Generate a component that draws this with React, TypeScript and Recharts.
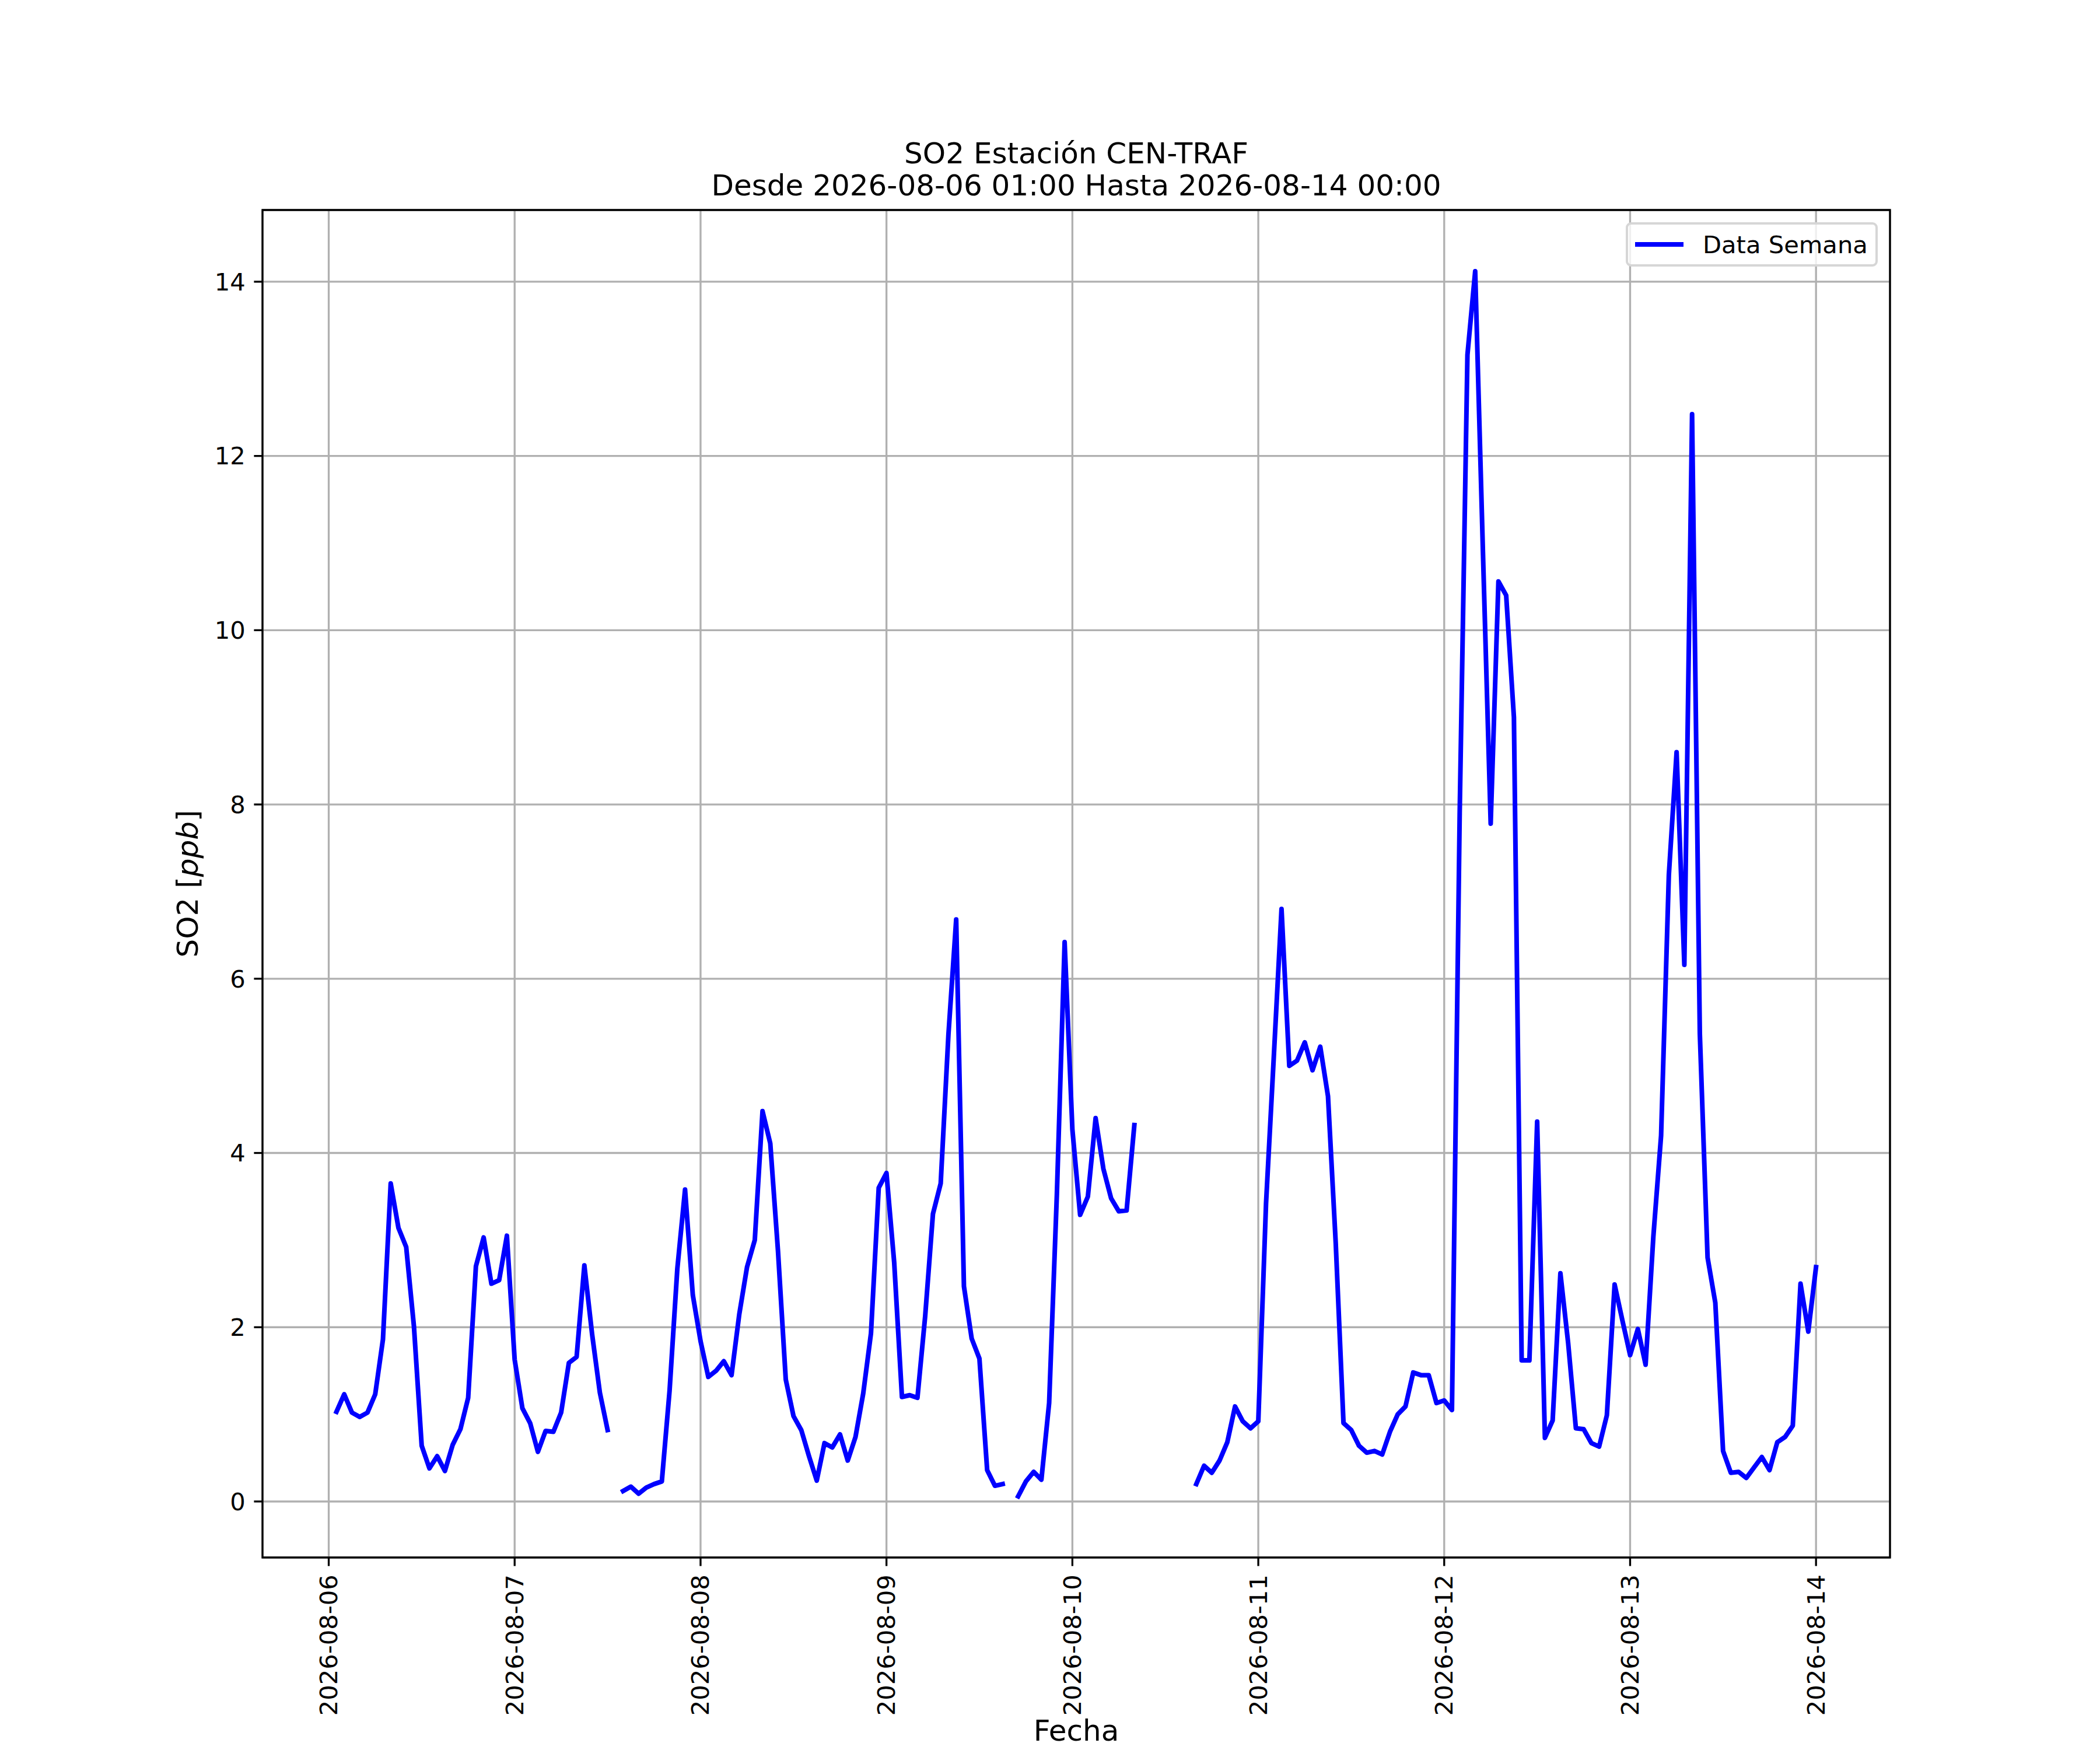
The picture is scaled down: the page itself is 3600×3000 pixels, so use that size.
import React from 'react';
import { LineChart, Line, XAxis, YAxis, CartesianGrid, ReferenceArea, Legend } from 'recharts';

// tick labels (one per day, at 00:00)
const dayLabels = [
  '2026-08-06', '2026-08-07', '2026-08-08', '2026-08-09', '2026-08-10',
  '2026-08-11', '2026-08-12', '2026-08-13', '2026-08-14',
];
const dayTicks = [0, 24, 48, 72, 96, 120, 144, 168, 192];
const yTicks = [0, 2, 4, 6, 8, 10, 12, 14];

// hourly SO2 [ppb]; every array is one calendar day from 00:00 (the first one starts at 01:00)
const so2Aug06 = [1.03, 1.23, 1.02, 0.97, 1.02, 1.23, 1.86, 3.65, 3.14, 2.92, 2.01, 0.64, 0.38, 0.52, 0.35, 0.65, 0.83, 1.19, 2.7, 3.03, 2.5, 2.54, 3.05];
const so2Aug07 = [1.63, 1.07, 0.9, 0.57, 0.81, 0.8, 1.02, 1.59, 1.66, 2.71, 1.92, 1.25, 0.82, null, 0.12, 0.17, 0.09, 0.16, 0.2, 0.23, 1.27, 2.67, 3.58, 2.37];
const so2Aug08 = [1.84, 1.43, 1.5, 1.61, 1.45, 2.15, 2.69, 3.0, 4.48, 4.11, 2.87, 1.4, 0.98, 0.82, 0.52, 0.24, 0.67, 0.62, 0.77, 0.47, 0.74, 1.24, 1.93, 3.6];
const so2Aug09 = [3.77, 2.74, 1.2, 1.22, 1.19, 2.13, 3.3, 3.65, 5.36, 6.68, 2.47, 1.87, 1.64, 0.36, 0.18, 0.2, null, 0.06, 0.23, 0.34, 0.25, 1.13, 3.53, 6.42];
const so2Aug10 = [4.27, 3.29, 3.5, 4.4, 3.82, 3.48, 3.33, 3.34, 4.32, null, null, null, null, null, null, null, 0.2, 0.41, 0.33, 0.47, 0.68, 1.09, 0.92, 0.84];
const so2Aug11 = [0.92, 3.42, 5.1, 6.8, 5.0, 5.06, 5.27, 4.95, 5.22, 4.65, 2.96, 0.9, 0.82, 0.64, 0.56, 0.58, 0.54, 0.8, 1.0, 1.09, 1.48, 1.45, 1.45, 1.13];
const so2Aug12 = [1.16, 1.05, 7.9, 13.16, 14.12, 10.9, 7.78, 10.56, 10.4, 9.0, 1.62, 1.62, 4.36, 0.73, 0.93, 2.62, 1.82, 0.84, 0.83, 0.67, 0.63, 0.99, 2.49, 2.08];
const so2Aug13 = [1.68, 1.98, 1.57, 3.04, 4.2, 7.19, 8.6, 6.16, 12.48, 5.37, 2.8, 2.28, 0.58, 0.33, 0.34, 0.27, 0.39, 0.51, 0.36, 0.68, 0.74, 0.87, 2.5, 1.95];
const so2Aug14 = [2.69];

const days = [so2Aug06, so2Aug07, so2Aug08, so2Aug09, so2Aug10, so2Aug11, so2Aug12, so2Aug13, so2Aug14];

// x = hours since 2026-08-06 00:00
const data = days.flatMap((vals, d) =>
  vals.map((v, i) => ({ h: d === 0 ? i + 1 : d * 24 + i, so2: v }))
);

// matplotlib style 5% margins
const X_DOMAIN: [number, number] = [-8.55, 201.55];
const Y_DOMAIN: [number, number] = [-0.643, 14.823];

const FONT = '"DejaVu Sans", sans-serif';
const TICK_FS = 41.67;
const LW = 3.33;
const SERIES_W = 8;

const DateTick = (props: any) => {
  const { x, y, payload } = props;
  return (
    <text
      x={x}
      y={y}
      transform={`rotate(-90, ${x}, ${y})`}
      textAnchor="end"
      dominantBaseline="central"
      fontSize={TICK_FS}
      fontFamily={FONT}
      fill="#000"
    >
      {dayLabels[Math.round(payload.value / 24)]}
    </text>
  );
};

const LegendBox = () => (
  <div
    style={{
      width: 432,
      height: 76,
      boxSizing: 'border-box',
      border: '4px solid #d6d6d6',
      borderRadius: 9,
      background: 'rgba(255,255,255,0.8)',
      display: 'flex',
      alignItems: 'center',
      fontFamily: FONT,
      fontSize: TICK_FS,
      color: '#000',
    }}
  >
    <div style={{ marginLeft: 12, width: 83, height: SERIES_W, background: '#0000ff' }} />
    <span style={{ marginLeft: 33, whiteSpace: 'nowrap' }}>Data Semana</span>
  </div>
);

export default function App() {
  return (
    <div style={{ position: 'absolute', left: 0, top: 0, width: 3600, height: 3000, background: '#fff' }}>
      <LineChart
        width={3600}
        height={3000}
        data={data}
        margin={{ top: 360, right: 360, bottom: 0, left: 0 }}
      >
        <CartesianGrid stroke="#b0b0b0" strokeWidth={LW} fill="none" />
        <XAxis
          dataKey="h"
          type="number"
          domain={X_DOMAIN}
          allowDataOverflow
          ticks={dayTicks}
          interval={0}
          height={330}
          axisLine={false}
          tickSize={14.6}
          tickMargin={14.6}
          tickLine={{ stroke: '#000', strokeWidth: LW }}
          tick={<DateTick />}
        />
        <YAxis
          type="number"
          domain={Y_DOMAIN}
          allowDataOverflow
          ticks={yTicks}
          interval={0}
          width={450}
          axisLine={false}
          tickSize={14.6}
          tickMargin={14.6}
          tickLine={{ stroke: '#000', strokeWidth: LW }}
          tick={{ fontSize: TICK_FS, fontFamily: FONT, fill: '#000' }}
        />
        <Line
          dataKey="so2"
          name="Data Semana"
          stroke="#0000ff"
          strokeWidth={SERIES_W}
          strokeLinejoin="round"
          strokeLinecap="square"
          dot={false}
          activeDot={false}
          connectNulls={false}
          isAnimationActive={false}
        />
        <ReferenceArea
          x1={X_DOMAIN[0]}
          x2={X_DOMAIN[1]}
          y1={Y_DOMAIN[0]}
          y2={Y_DOMAIN[1]}
          fill="none"
          fillOpacity={0}
          stroke="#000"
          strokeWidth={LW}
          ifOverflow="visible"
        />
        <Legend
          layout="vertical"
          align="center"
          verticalAlign="middle"
          wrapperStyle={{ top: 381, left: 2787, width: 432, height: 76 }}
          content={() => <LegendBox />}
        />
      </LineChart>
      <svg
        width={3600}
        height={3000}
        style={{ position: 'absolute', left: 0, top: 0, pointerEvents: 'none' }}
      >
        <g fontFamily={FONT} fill="#000" fontSize={50} textAnchor="middle">
          <text x={1845} y={280}>SO2 Estación CEN-TRAF</text>
          <text x={1845} y={335}>Desde 2026-08-06 01:00 Hasta 2026-08-14 00:00</text>
          <text x={1845} y={2984}>Fecha</text>
          <text transform="translate(339, 1515) rotate(-90)">
            SO2 [<tspan fontStyle="italic">ppb</tspan>]
          </text>
        </g>
      </svg>
    </div>
  );
}
